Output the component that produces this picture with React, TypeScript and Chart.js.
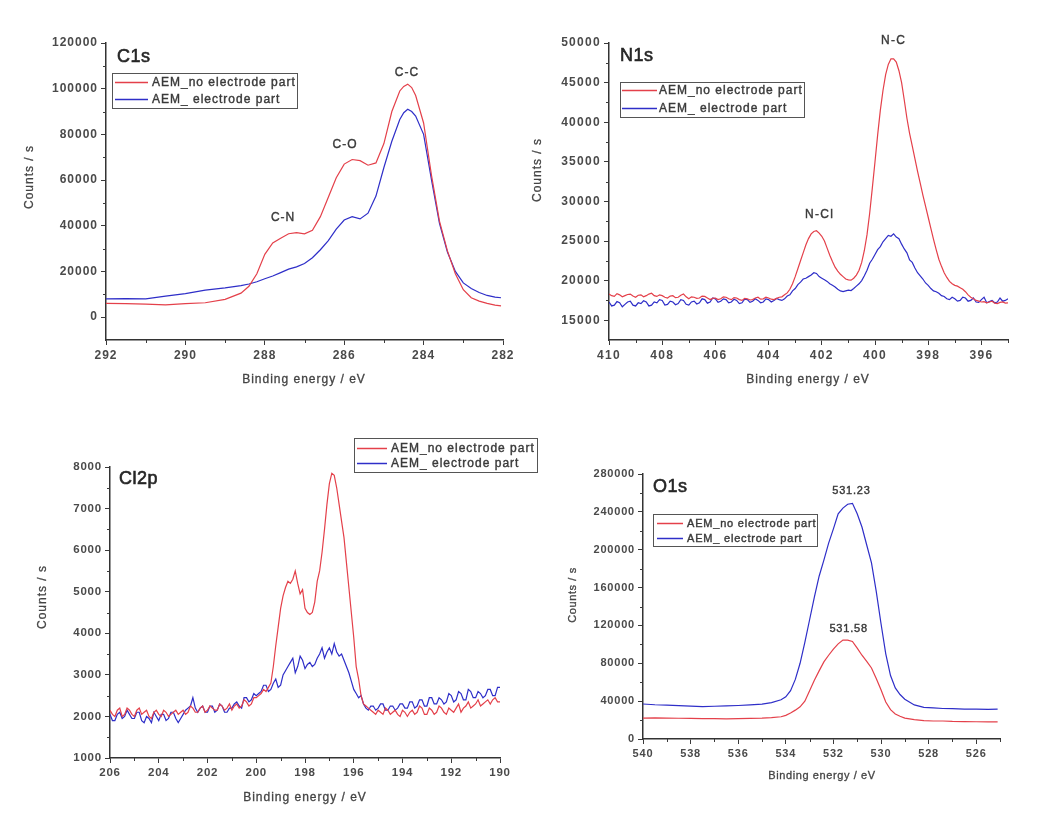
import React, { useEffect, useRef } from 'react';
import { Chart, registerables } from 'chart.js';

Chart.register(...registerables);

const FONT = '"Liberation Sans", Arial, Helvetica, sans-serif';
const RED = 'rgb(228,64,74)';
const BLUE = 'rgb(46,46,200)';
const INK = '#3a3a3a';
const TICK_INK = '#4a4a4a';
const SERIES = ['AEM_no electrode part', 'AEM_ electrode part'];
const X_TITLE = 'Binding energy / eV';
const Y_TITLE = 'Counts / s';

// ---------- C1s ----------
const c1sEnergy = [292, 291.5, 291, 290.5, 290, 289.5, 289, 288.6, 288.4, 288.2, 288, 287.8, 287.6, 287.4, 287.2, 287, 286.8, 286.6, 286.4, 286.2, 286, 285.8, 285.6, 285.4, 285.2, 285, 284.8, 284.6, 284.5, 284.4, 284.3, 284.2, 284, 283.8, 283.6, 283.4, 283.2, 283, 282.8, 282.6, 282.4, 282.2, 282.05];
const c1sNoElectrode = [6000, 5900, 5700, 5400, 5900, 6300, 7800, 10500, 13500, 19000, 27500, 32500, 34500, 36500, 37000, 36500, 38000, 44000, 52500, 61000, 67000, 69000, 68500, 66500, 67500, 76000, 90000, 99000, 101000, 102000, 100500, 97000, 85000, 62000, 42000, 29000, 19000, 12000, 8500, 7000, 6000, 5300, 4900];
const c1sElectrode = [8000, 8100, 8000, 9200, 10300, 11800, 12800, 13800, 14500, 15500, 16800, 18000, 19500, 21000, 22000, 23500, 26000, 29500, 33500, 38500, 42500, 44000, 43000, 45500, 53000, 65500, 77000, 86500, 89500, 91000, 90000, 88000, 80000, 60000, 41000, 28500, 20000, 15000, 12500, 10800, 9500, 8800, 8500];
const c1sXTicks = [292, 290, 288, 286, 284, 282];
const c1sXMinor = [291, 289, 287, 285, 283];
const c1sYTicks = [0, 20000, 40000, 60000, 80000, 100000, 120000];
const c1sYMinor = [10000, 30000, 50000, 70000, 90000, 110000];
const c1sPeakNames = ['C-C', 'C-O', 'C-N'];
const c1sPeakEnergy = [284.42, 285.98, 287.54];
const c1sPeakCounts = [105500, 74000, 42000];

// ---------- N1s ----------
const n1sEnergy = [410, 409.9, 409.8, 409.7, 409.6, 409.5, 409.4, 409.3, 409.2, 409.1, 409, 408.9, 408.8, 408.7, 408.6, 408.5, 408.4, 408.3, 408.2, 408.1, 408, 407.9, 407.8, 407.7, 407.6, 407.5, 407.4, 407.3, 407.2, 407.1, 407, 406.9, 406.8, 406.7, 406.6, 406.5, 406.4, 406.3, 406.2, 406.1, 406, 405.9, 405.8, 405.7, 405.6, 405.5, 405.4, 405.3, 405.2, 405.1, 405, 404.9, 404.8, 404.7, 404.6, 404.5, 404.4, 404.3, 404.2, 404.1, 404, 403.9, 403.8, 403.7, 403.6, 403.5, 403.4, 403.3, 403.2, 403.1, 403, 402.9, 402.8, 402.7, 402.6, 402.5, 402.4, 402.3, 402.2, 402.1, 402, 401.9, 401.8, 401.7, 401.6, 401.5, 401.4, 401.3, 401.2, 401.1, 401, 400.9, 400.8, 400.7, 400.6, 400.5, 400.4, 400.3, 400.2, 400.1, 400, 399.9, 399.8, 399.7, 399.6, 399.5, 399.4, 399.3, 399.2, 399.1, 399, 398.9, 398.8, 398.7, 398.6, 398.5, 398.4, 398.3, 398.2, 398.1, 398, 397.9, 397.8, 397.7, 397.6, 397.5, 397.4, 397.3, 397.2, 397.1, 397, 396.9, 396.8, 396.7, 396.6, 396.5, 396.4, 396.3, 396.2, 396.1, 396, 395.9, 395.8, 395.7, 395.6, 395.5, 395.4, 395.3, 395.2, 395.1, 395];
const n1sNoElectrode = [18300, 18100, 18000, 18350, 18200, 17950, 18100, 18250, 18300, 18050, 17900, 18150, 18200, 17950, 18100, 18300, 18400, 18100, 18000, 18200, 18100, 17900, 17800, 18050, 18100, 17850, 17900, 18150, 18300, 17950, 17700, 17950, 17900, 17750, 17800, 18050, 18000, 17800, 17600, 17750, 17800, 17600, 17700, 17950, 17900, 17700, 17600, 17850, 17800, 17600, 17500, 17750, 17700, 17550, 17600, 17800, 17900, 17650, 17700, 17900, 17800, 17650, 17600, 17750, 17900, 17950, 18200, 18450, 18900, 19600, 20500, 21500, 22500, 23500, 24500, 25300, 25900, 26200, 26300, 26000, 25600, 25000, 24100, 23200, 22400, 21700, 21200, 20800, 20500, 20200, 20100, 20050, 20300, 20700, 21300, 22300, 23800, 25800, 28500, 31700, 35000, 38400, 41500, 44000, 46000, 47300, 48000, 48000, 47600, 46500, 45000, 42800, 40500, 38600, 37000, 35400, 33800, 32300, 30800, 29400, 28000, 26600, 25200, 23900, 22700, 21800, 21000, 20400, 19900, 19600, 19400, 19300, 19100, 18900, 18600, 18200, 17900, 17700, 17500, 17400, 17300, 17350, 17200, 17300, 17400, 17150, 17100, 17250, 17300, 17150, 17200];
const n1sElectrode = [17300, 16800, 16900, 17350, 17200, 16700, 17000, 17300, 17400, 16900, 16800, 17200, 17100, 17450, 17300, 16800, 16900, 17300, 17200, 17600, 17500, 16900, 17000, 17400, 17300, 16950, 17100, 17600, 17500, 17000, 16900, 17300, 17400, 17050, 17200, 17700, 17600, 17150, 17300, 17800, 17700, 17250, 17400, 17700, 17600, 17200, 17300, 17650, 17500, 17100, 17200, 17650, 17600, 17250, 17400, 17700, 17500, 17200, 17300, 17700, 17600, 17300, 17500, 17750, 17600, 17500, 17700, 18050, 18200, 18700, 19000, 19500, 19800, 20200, 20300, 20500, 20700, 21000, 20900, 20500, 20300, 20100, 19900, 19600, 19400, 19200, 18900, 18700, 18600, 18700, 18800, 18750, 19000, 19300, 19600, 20000, 20600, 21300, 22200, 22700, 23300, 23900, 24300, 24900, 25300, 25700, 25600, 25900, 25500, 25300, 24600, 24000, 23500, 22600, 22300, 21600, 21000, 20600, 20200, 19700, 19400, 19000, 18700, 18600, 18400, 18100, 18000, 17700, 17600, 17900, 17700, 17400, 17500, 17900, 17800, 17400, 17500, 17800, 17300, 17250, 17600, 17900, 17200, 17350, 17500, 17200, 17300, 17800, 17400, 17500, 17700];
const n1sXTicks = [410, 408, 406, 404, 402, 400, 398, 396];
const n1sXMinor = [409, 407, 405, 403, 401, 399, 397, 395];
const n1sYTicks = [15000, 20000, 25000, 30000, 35000, 40000, 45000, 50000];
const n1sYMinor = [17500, 22500, 27500, 32500, 37500, 42500, 47500];
const n1sPeakNames = ['N-C', 'N-Cl'];
const n1sPeakEnergy = [399.3, 402.08];
const n1sPeakCounts = [49850, 27880];

// ---------- Cl2p ----------
const cl2pEnergy = [206, 205.9, 205.8, 205.7, 205.6, 205.5, 205.4, 205.3, 205.2, 205.1, 205, 204.9, 204.8, 204.7, 204.6, 204.5, 204.4, 204.3, 204.2, 204.1, 204, 203.9, 203.8, 203.7, 203.6, 203.5, 203.4, 203.3, 203.2, 203.1, 203, 202.9, 202.8, 202.7, 202.6, 202.5, 202.4, 202.3, 202.2, 202.1, 202, 201.9, 201.8, 201.7, 201.6, 201.5, 201.4, 201.3, 201.2, 201.1, 201, 200.9, 200.8, 200.7, 200.6, 200.5, 200.4, 200.3, 200.2, 200.1, 200, 199.9, 199.8, 199.7, 199.6, 199.5, 199.4, 199.3, 199.2, 199.1, 199, 198.9, 198.8, 198.7, 198.6, 198.5, 198.4, 198.3, 198.2, 198.1, 198, 197.9, 197.8, 197.7, 197.6, 197.5, 197.4, 197.3, 197.2, 197.1, 197, 196.9, 196.8, 196.7, 196.6, 196.5, 196.4, 196.3, 196.2, 196.1, 196, 195.9, 195.8, 195.7, 195.6, 195.5, 195.4, 195.3, 195.2, 195.1, 195, 194.9, 194.8, 194.7, 194.6, 194.5, 194.4, 194.3, 194.2, 194.1, 194, 193.9, 193.8, 193.7, 193.6, 193.5, 193.4, 193.3, 193.2, 193.1, 193, 192.9, 192.8, 192.7, 192.6, 192.5, 192.4, 192.3, 192.2, 192.1, 192, 191.9, 191.8, 191.7, 191.6, 191.5, 191.4, 191.3, 191.2, 191.1, 191, 190.9, 190.8, 190.7, 190.6, 190.5, 190.4, 190.3, 190.2, 190.1, 190];
const cl2pNoElectrode = [2150, 2050, 2000, 2150, 2200, 2000, 2050, 2200, 2150, 2050, 2000, 2150, 2200, 2050, 2100, 2150, 2000, 1950, 2100, 2150, 2050, 2000, 2150, 2100, 2000, 2050, 2100, 2150, 2050, 2100, 2150, 2050, 2100, 2250, 2200, 2100, 2100, 2200, 2250, 2100, 2150, 2250, 2200, 2150, 2150, 2300, 2250, 2150, 2200, 2300, 2150, 2250, 2300, 2200, 2250, 2400, 2350, 2250, 2300, 2450, 2450, 2500, 2550, 2650, 2600, 2700, 2800, 3200, 3700, 4150, 4600, 4900, 5100, 5250, 5200, 5300, 5500, 5200, 4950, 5050, 4600, 4500, 4450, 4500, 4750, 5250, 5500, 5950, 6500, 7100, 7600, 7850, 7800, 7500, 7100, 6700, 6300, 5700, 5100, 4500, 3900, 3200, 2900, 2500, 2300, 2250, 2200, 2150, 2100, 2050, 2150, 2100, 2050, 2200, 2150, 2050, 2100, 2150, 2050, 2000, 2150, 2100, 2000, 2100, 2150, 2050, 2100, 2250, 2200, 2050, 2050, 2200, 2150, 2050, 2100, 2250, 2200, 2100, 2050, 2200, 2150, 2100, 2200, 2300, 2100, 2200, 2250, 2350, 2200, 2250, 2300, 2400, 2250, 2300, 2350, 2400, 2300, 2400, 2450, 2350, 2350];
const cl2pElectrode = [2050, 1900, 1900, 2050, 2100, 1950, 2000, 2150, 2050, 1950, 1950, 2100, 2100, 1900, 1850, 2000, 1950, 1850, 2100, 2000, 1900, 2050, 2050, 1900, 1950, 2100, 2100, 1950, 1850, 1950, 2050, 2150, 2200, 2250, 2450, 2200, 2100, 2200, 2250, 2100, 2100, 2250, 2250, 2100, 2150, 2300, 2250, 2100, 2100, 2200, 2200, 2300, 2350, 2250, 2200, 2450, 2450, 2350, 2400, 2550, 2500, 2550, 2600, 2750, 2750, 2600, 2650, 2800, 2900, 2700, 2750, 3000, 3100, 3200, 3300, 3400, 3050, 3200, 3450, 3350, 3150, 3250, 3300, 3200, 3250, 3400, 3500, 3650, 3400, 3550, 3650, 3500, 3750, 3550, 3450, 3500, 3350, 3200, 3050, 2850, 2650, 2550, 2450, 2500, 2300, 2200, 2150, 2250, 2250, 2150, 2200, 2300, 2300, 2150, 2150, 2250, 2250, 2150, 2200, 2300, 2300, 2200, 2200, 2350, 2350, 2200, 2250, 2400, 2400, 2250, 2250, 2450, 2450, 2300, 2300, 2450, 2400, 2300, 2350, 2550, 2500, 2350, 2400, 2600, 2550, 2400, 2400, 2650, 2600, 2450, 2450, 2600, 2550, 2450, 2500, 2650, 2650, 2500, 2500, 2700, 2700];
const cl2pXTicks = [206, 204, 202, 200, 198, 196, 194, 192, 190];
const cl2pXMinor = [205, 203, 201, 199, 197, 195, 193, 191];
const cl2pYTicks = [1000, 2000, 3000, 4000, 5000, 6000, 7000, 8000];
const cl2pYMinor = [1500, 2500, 3500, 4500, 5500, 6500, 7500];

// ---------- O1s ----------
const o1sEnergy = [540, 539.5, 539, 538.5, 538, 537.5, 537, 536.5, 536, 535.5, 535, 534.6, 534.2, 534, 533.8, 533.6, 533.4, 533.2, 533, 532.8, 532.6, 532.4, 532.2, 532, 531.8, 531.6, 531.4, 531.2, 531, 530.8, 530.6, 530.4, 530.2, 530, 529.8, 529.6, 529.4, 529.2, 529, 528.6, 528.2, 527.8, 527.4, 527, 526.5, 526, 525.5, 525.1];
const o1sNoElectrode = [22000, 22400, 22100, 21900, 21800, 21500, 21600, 21300, 21500, 21800, 22000, 22500, 23500, 25000, 27500, 30500, 34000, 40000, 51000, 62000, 72000, 81500, 88500, 95000, 100500, 104500, 104500, 103000, 96000, 88500, 82000, 75000, 64000, 52000, 39000, 31000, 26500, 24000, 22000, 20500, 19500, 19000, 19000, 18600, 18400, 18200, 18000, 18000];
const o1sElectrode = [37000, 36200, 35800, 35200, 34800, 34200, 34600, 35000, 35400, 36000, 36800, 38500, 41500, 44500, 51000, 63000, 80000, 102000, 126000, 150000, 172000, 189000, 207000, 222000, 238000, 244000, 248000, 249000, 238000, 224000, 205000, 186000, 156000, 122000, 90000, 67000, 54000, 47000, 42000, 36000, 33500, 32800, 32200, 32000, 31600, 31500, 31200, 31600];
const o1sXTicks = [540, 538, 536, 534, 532, 530, 528, 526];
const o1sXMinor = [539, 537, 535, 533, 531, 529, 527, 525];
const o1sYTicks = [0, 40000, 80000, 120000, 160000, 200000, 240000, 280000];
const o1sYMinor = [20000, 60000, 100000, 140000, 180000, 220000, 260000];
const o1sPeakNames = ['531.23', '531.58'];
const o1sPeakEnergy = [531.24, 531.36];
const o1sPeakCounts = [258850, 113050];

type Box = { left: number; top: number; width: number; height: number };
type PanelSpec = {
  name: string;
  canvas: Box;
  area: { left: number; top: number; right: number; bottom: number };
  xRange: [number, number];
  yRange: [number, number];
  xTicks: number[]; xMinor: number[]; yTicks: number[]; yMinor: number[];
  energy: number[]; noElectrode: number[]; electrode: number[];
  peakNames: string[]; peakEnergy: number[]; peakCounts: number[];
  tickFont: number; tickSpacing: number;
  labelPos: { x: number; y: number };
  legend: Box & { rows: [number, number]; lineX: [number, number]; textX: number; font: number; spacing: number };
  yTitle: { x: number; y: number };
  xTitle: { x: number; y: number };
  titleFont: number; titleSpacing: number;
};

const panels: PanelSpec[] = [
  {
    name: 'C1s',
    canvas: { left: 0, top: 0, width: 520, height: 400 },
    area: { left: 106, top: 43, right: 503, bottom: 340 },
    xRange: [282, 292], yRange: [-10000, 120000],
    xTicks: c1sXTicks, xMinor: c1sXMinor, yTicks: c1sYTicks, yMinor: c1sYMinor,
    energy: c1sEnergy, noElectrode: c1sNoElectrode, electrode: c1sElectrode,
    peakNames: c1sPeakNames, peakEnergy: c1sPeakEnergy, peakCounts: c1sPeakCounts,
    tickFont: 12, tickSpacing: 1,
    labelPos: { x: 117, y: 62 },
    legend: { left: 112, top: 73, width: 185, height: 35, rows: [82, 99], lineX: [115, 148], textX: 152, font: 12, spacing: 1 },
    yTitle: { x: 30, y: 177 }, xTitle: { x: 304, y: 380 }, titleFont: 12, titleSpacing: 1,
  },
  {
    name: 'N1s',
    canvas: { left: 520, top: 0, width: 518, height: 400 },
    area: { left: 609, top: 43, right: 1008, bottom: 340 },
    xRange: [395, 410], yRange: [12500, 50000],
    xTicks: n1sXTicks, xMinor: n1sXMinor, yTicks: n1sYTicks, yMinor: n1sYMinor,
    energy: n1sEnergy, noElectrode: n1sNoElectrode, electrode: n1sElectrode,
    peakNames: n1sPeakNames, peakEnergy: n1sPeakEnergy, peakCounts: n1sPeakCounts,
    tickFont: 12, tickSpacing: 1.3,
    labelPos: { x: 620, y: 61 },
    legend: { left: 620, top: 82, width: 184, height: 35, rows: [90, 108], lineX: [622, 657], textX: 659, font: 12, spacing: 1 },
    yTitle: { x: 538, y: 170 }, xTitle: { x: 808, y: 380 }, titleFont: 12, titleSpacing: 1,
  },
  {
    name: 'Cl2p',
    canvas: { left: 0, top: 410, width: 545, height: 410 },
    area: { left: 110, top: 467, right: 500, bottom: 758 },
    xRange: [190, 206], yRange: [1000, 8000],
    xTicks: cl2pXTicks, xMinor: cl2pXMinor, yTicks: cl2pYTicks, yMinor: cl2pYMinor,
    energy: cl2pEnergy, noElectrode: cl2pNoElectrode, electrode: cl2pElectrode,
    peakNames: [], peakEnergy: [], peakCounts: [],
    tickFont: 11.5, tickSpacing: 0.8,
    labelPos: { x: 119, y: 484 },
    legend: { left: 354, top: 438, width: 183, height: 34, rows: [448, 463], lineX: [357, 387], textX: 391, font: 12, spacing: 1 },
    yTitle: { x: 43, y: 597 }, xTitle: { x: 305, y: 798 }, titleFont: 12, titleSpacing: 1,
  },
  {
    name: 'O1s',
    canvas: { left: 520, top: 410, width: 518, height: 410 },
    area: { left: 643, top: 474, right: 1000, bottom: 739 },
    xRange: [525, 540], yRange: [0, 280000],
    xTicks: o1sXTicks, xMinor: o1sXMinor, yTicks: o1sYTicks, yMinor: o1sYMinor,
    energy: o1sEnergy, noElectrode: o1sNoElectrode, electrode: o1sElectrode,
    peakNames: o1sPeakNames, peakEnergy: o1sPeakEnergy, peakCounts: o1sPeakCounts,
    tickFont: 11, tickSpacing: 0.8,
    labelPos: { x: 653, y: 492 },
    legend: { left: 653, top: 514, width: 164, height: 32, rows: [523, 538], lineX: [657, 683], textX: 687, font: 11, spacing: 0.8 },
    yTitle: { x: 573, y: 595 }, xTitle: { x: 822, y: 776 }, titleFont: 11, titleSpacing: 0.6,
  },
];

function Panel({ spec }: { spec: PanelSpec }) {
  const ref = useRef<HTMLCanvasElement>(null);
  const c = spec.canvas;
  useEffect(() => {
    const canvas = ref.current;
    if (!canvas) return;
    const a = spec.area;
    const ox = c.left;
    const oy = c.top;
    const setSpacing = (chart: any) => {
      chart.ctx.letterSpacing = spec.tickSpacing + 'px';
    };
    const heavyText = (ctx: CanvasRenderingContext2D, t: string, x: number, y: number, w: number) => {
      ctx.fillText(t, x, y);
      ctx.lineWidth = w;
      ctx.strokeText(t, x, y);
    };
    const decor = {
      id: 'decor' + spec.name,
      beforeUpdate: setSpacing,
      beforeDraw: setSpacing,
      afterDraw(chart: any) {
        const ctx = chart.ctx as CanvasRenderingContext2D & { letterSpacing: string };
        const ca = chart.chartArea;
        const xs = chart.scales.x;
        const ys = chart.scales.y;
        ctx.save();
        // minor ticks
        ctx.strokeStyle = INK;
        ctx.lineWidth = 1;
        ctx.beginPath();
        spec.xMinor.forEach((v) => {
          const p = Math.round(xs.getPixelForValue(v)) + 0.5;
          ctx.moveTo(p, ca.bottom);
          ctx.lineTo(p, ca.bottom + 3);
        });
        spec.yMinor.forEach((v) => {
          const p = Math.round(ys.getPixelForValue(v)) + 0.5;
          ctx.moveTo(ca.left - 3, p);
          ctx.lineTo(ca.left, p);
        });
        ctx.stroke();

        // panel label
        ctx.fillStyle = '#262626';
        ctx.strokeStyle = '#262626';
        ctx.letterSpacing = '0.5px';
        ctx.font = `18px ${FONT}`;
        ctx.textAlign = 'left';
        ctx.textBaseline = 'alphabetic';
        heavyText(ctx, spec.name, spec.labelPos.x - ox, spec.labelPos.y - oy, 0.6);

        // peak labels
        ctx.fillStyle = INK;
        ctx.strokeStyle = INK;
        ctx.font = `${spec.tickFont}px ${FONT}`;
        ctx.letterSpacing = spec.tickSpacing + 'px';
        ctx.textAlign = 'center';
        spec.peakNames.forEach((t, i) => {
          heavyText(ctx, t, xs.getPixelForValue(spec.peakEnergy[i]), ys.getPixelForValue(spec.peakCounts[i]), 0.4);
        });

        // axis titles
        ctx.font = `${spec.titleFont}px ${FONT}`;
        ctx.letterSpacing = spec.titleSpacing + 'px';
        ctx.fillStyle = '#444444';
        ctx.strokeStyle = '#444444';
        ctx.textAlign = 'center';
        ctx.textBaseline = 'middle';
        heavyText(ctx, X_TITLE, spec.xTitle.x - ox, spec.xTitle.y - oy, 0.3);
        ctx.save();
        ctx.translate(spec.yTitle.x - ox, spec.yTitle.y - oy);
        ctx.rotate(-Math.PI / 2);
        heavyText(ctx, Y_TITLE, 0, 0, 0.3);
        ctx.restore();

        // legend
        const L = spec.legend;
        ctx.strokeStyle = '#555555';
        ctx.lineWidth = 1;
        ctx.strokeRect(L.left - ox + 0.5, L.top - oy + 0.5, L.width, L.height);
        [RED, BLUE].forEach((col, i) => {
          const y = L.rows[i] - oy + 0.5;
          ctx.strokeStyle = col;
          ctx.lineWidth = 1.5;
          ctx.beginPath();
          ctx.moveTo(L.lineX[0] - ox, y);
          ctx.lineTo(L.lineX[1] - ox, y);
          ctx.stroke();
          ctx.fillStyle = INK;
          ctx.strokeStyle = INK;
          ctx.font = `${L.font}px ${FONT}`;
          ctx.letterSpacing = L.spacing + 'px';
          ctx.textAlign = 'left';
          ctx.textBaseline = 'middle';
          heavyText(ctx, SERIES[i], L.textX - ox, y, 0.4);
        });
        ctx.restore();
        setSpacing(chart);
      },
    };

    const axisCommon = {
      type: 'linear' as const,
      grid: {
        drawOnChartArea: false,
        drawTicks: true,
        tickLength: 5,
        color: INK,
        tickColor: INK,
        tickWidth: 1,
      },
      border: { display: true, color: '#333333', width: 1.5 },
    };
    const tickCommon = {
      color: TICK_INK,
      font: { family: FONT, size: spec.tickFont, weight: 'bold' },
      padding: 3,
      autoSkip: false,
      maxRotation: 0,
      minRotation: 0,
      callback: (v: any) => String(v),
    };

    const chart = new Chart(canvas, {
      type: 'line',
      data: {
        datasets: [
          {
            label: SERIES[0],
            data: spec.energy.map((e, i) => ({ x: e, y: spec.noElectrode[i] })),
            borderColor: RED,
            backgroundColor: RED,
            borderWidth: 1.2,
            pointRadius: 0,
            tension: 0,
            fill: false,
          },
          {
            label: SERIES[1],
            data: spec.energy.map((e, i) => ({ x: e, y: spec.electrode[i] })),
            borderColor: BLUE,
            backgroundColor: BLUE,
            borderWidth: 1.2,
            pointRadius: 0,
            tension: 0,
            fill: false,
          },
        ],
      },
      options: {
        responsive: false,
        animation: false,
        events: [],
        layout: {
          padding: {
            left: 0,
            top: a.top - c.top,
            right: c.left + c.width - a.right,
            bottom: 0,
          },
        },
        plugins: {
          legend: { display: false },
          tooltip: { enabled: false },
        },
        scales: {
          x: {
            ...axisCommon,
            reverse: true,
            min: spec.xRange[0],
            max: spec.xRange[1],
            ticks: tickCommon,
            afterBuildTicks: (s: any) => {
              s.ticks = spec.xTicks.map((v) => ({ value: v }));
            },
            afterFit: (s: any) => {
              s.height = c.top + c.height - a.bottom;
            },
          },
          y: {
            ...axisCommon,
            min: spec.yRange[0],
            max: spec.yRange[1],
            ticks: tickCommon,
            afterBuildTicks: (s: any) => {
              s.ticks = spec.yTicks.map((v) => ({ value: v }));
            },
            afterFit: (s: any) => {
              s.width = a.left - c.left;
            },
          },
        },
      } as any,
      plugins: [decor],
    });
    return () => chart.destroy();
  }, [spec]);

  return (
    <canvas
      ref={ref}
      width={c.width}
      height={c.height}
      style={{ position: 'absolute', left: c.left, top: c.top, width: c.width, height: c.height }}
    />
  );
}

export default function App() {
  return (
    <div style={{ position: 'absolute', left: 0, top: 0, width: 1038, height: 820, background: '#ffffff' }}>
      {panels.map((p) => (
        <Panel key={p.name} spec={p} />
      ))}
    </div>
  );
}
